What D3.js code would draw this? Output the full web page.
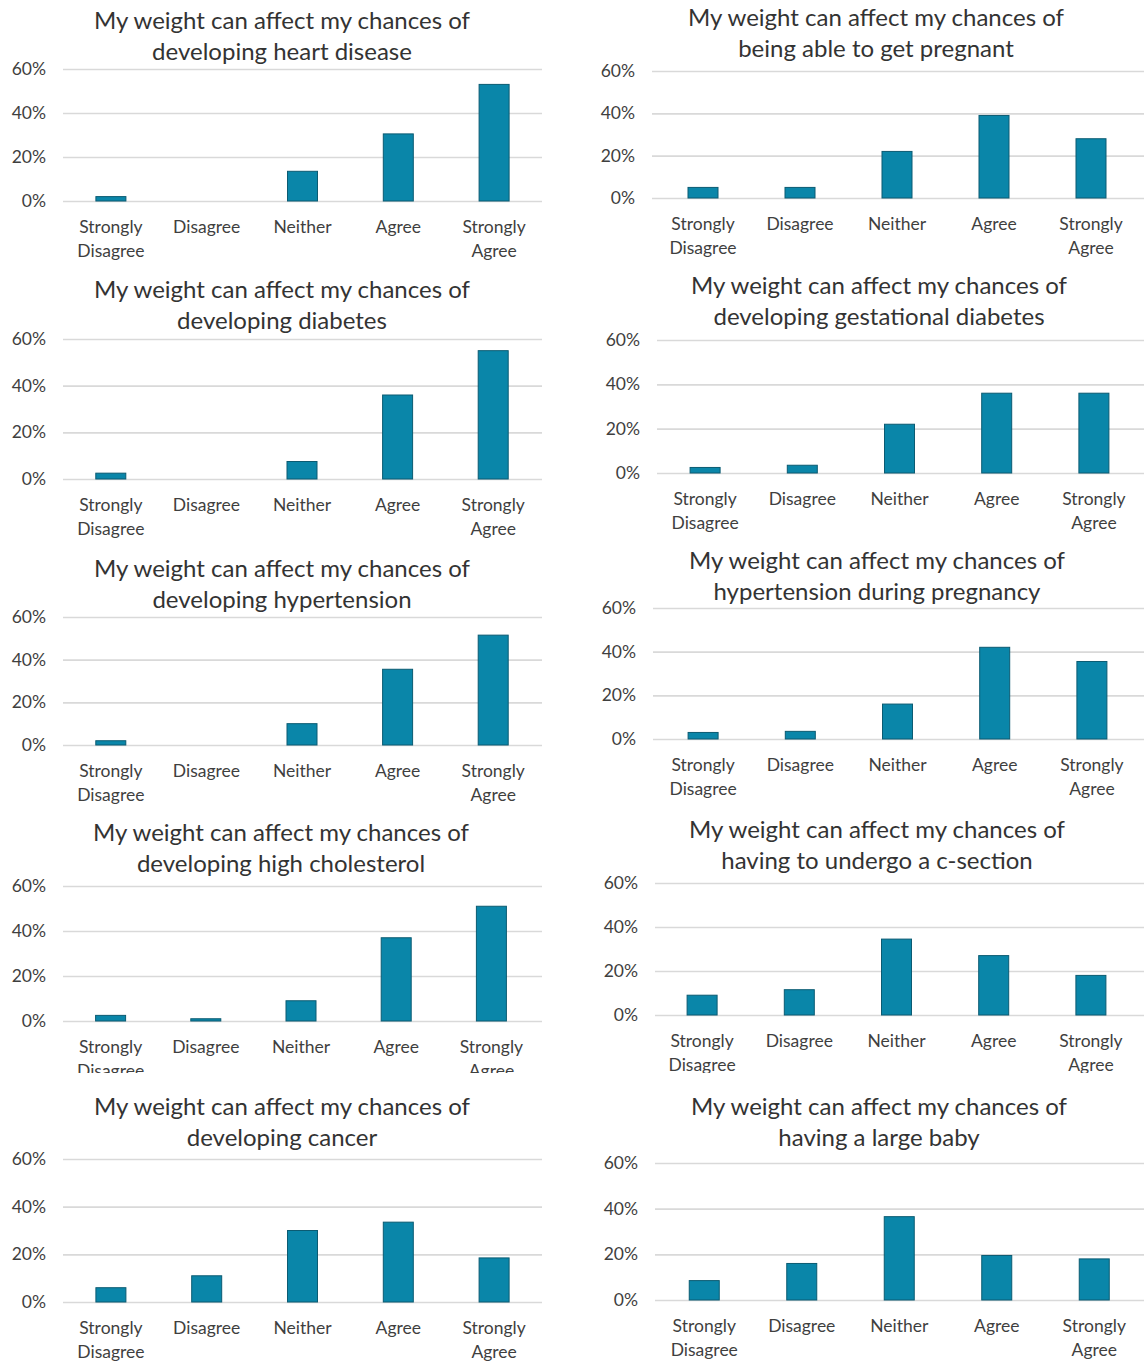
<!DOCTYPE html>
<html>
<head>
<meta charset="utf-8">
<script src="https://cdn.jsdelivr.net/npm/d3@7"></script>
<style>
  body { margin: 0; background: #fff; }
  svg text { font-family: Lato, "Open Sans", sans-serif; fill: #3f3f3f; }
  .title { font-size: 24px; fill: #333; }
  .tick text { font-size: 17.5px; }
  .cat { font-size: 18.5px; }
</style>
</head>
<body>
<div id="chart"></div>
<script>
// Answer categories (x axis), shared by all panels
const categories = ["Strongly Disagree", "Disagree", "Neither", "Agree", "Strongly Agree"];
const yTicks = [0, 20, 40, 60];

// Panel titles, left column first then right column
const titles = [
    ["My weight can affect my chances of", "developing heart disease"],
    ["My weight can affect my chances of", "developing diabetes"],
    ["My weight can affect my chances of", "developing hypertension"],
    ["My weight can affect my chances of", "developing high cholesterol"],
    ["My weight can affect my chances of", "developing cancer"],
    ["My weight can affect my chances of", "being able to get pregnant"],
    ["My weight can affect my chances of", "developing gestational diabetes"],
    ["My weight can affect my chances of", "hypertension during pregnancy"],
    ["My weight can affect my chances of", "having to undergo a c-section"],
    ["My weight can affect my chances of", "having a large baby"]
];

// Percent of respondents per category
const heartDisease   = [2, 0, 13.5, 30.5, 53];
const diabetes       = [2.5, 0, 7.5, 36, 55];
const hypertension   = [2, 0, 10, 35.5, 51.5];
const cholesterol    = [2.5, 1, 9, 37, 51];
const cancer         = [6, 11, 30, 33.5, 18.5];
const getPregnant    = [5, 5, 22, 39, 28];
const gestational    = [2.5, 3.5, 22, 36, 36];
const hyperPregnancy = [3, 3.5, 16, 42, 35.5];
const cSection       = [9, 11.5, 34.5, 27, 18];
const largeBaby      = [8.5, 16, 36.5, 19.5, 18];

const seriesList = [heartDisease, diabetes, hypertension, cholesterol, cancer,
                    getPregnant, gestational, hyperPregnancy, cSection, largeBaby];

// Where each pasted panel sits on the page
const layout = [
    { tx: 282, ty: 20,   gx0: 63,  gx1: 542,  bx0: 63,    bx1: 542,    yTop: 69,   yZero: 201,  clip: null },
    { tx: 282, ty: 289,  gx0: 63,  gx1: 542,  bx0: 63,    bx1: 541,    yTop: 339,  yZero: 479,  clip: null },
    { tx: 282, ty: 568,  gx0: 63,  gx1: 542,  bx0: 63,    bx1: 541,    yTop: 617,  yZero: 745,  clip: null },
    { tx: 281, ty: 832,  gx0: 63,  gx1: 542,  bx0: 63,    bx1: 539,    yTop: 886,  yZero: 1021, clip: 1073 },
    { tx: 282, ty: 1106, gx0: 63,  gx1: 542,  bx0: 63,    bx1: 542,    yTop: 1159, yZero: 1302, clip: null },
    { tx: 876, ty: 17,   gx0: 652, gx1: 1144, bx0: 654.5, bx1: 1139.5, yTop: 71,   yZero: 198,  clip: null },
    { tx: 879, ty: 285,  gx0: 657, gx1: 1144, bx0: 656.5, bx1: 1142.5, yTop: 340,  yZero: 473,  clip: null },
    { tx: 877, ty: 560,  gx0: 653, gx1: 1144, bx0: 654.5, bx1: 1140.5, yTop: 608,  yZero: 739,  clip: null },
    { tx: 877, ty: 829,  gx0: 655, gx1: 1144, bx0: 653.5, bx1: 1139.5, yTop: 883,  yZero: 1015, clip: 1073 },
    { tx: 879, ty: 1106, gx0: 655, gx1: 1144, bx0: 655.5, bx1: 1143,   yTop: 1163, yZero: 1300, clip: null }
];

const W = 1144, H = 1361;

const svg = d3.select("#chart")
    .append("svg")
    .attr("width", W)
    .attr("height", H);

const defs = svg.append("defs");

seriesList.forEach(function(values, i) {
    const L = layout[i];
    const data = categories.map((c, j) => ({ cat: c, value: values[j] }));

    let g = svg.append("g");
    if (L.clip) {
        defs.append("clipPath").attr("id", "clip" + i)
            .append("rect")
            .attr("x", 0).attr("y", 0)
            .attr("width", W).attr("height", L.clip);
        g.attr("clip-path", `url(#clip${i})`);
    }

    // Title
    g.append("text")
        .attr("class", "title")
        .attr("text-anchor", "middle")
        .attr("x", L.tx)
        .attr("y", L.ty)
        .selectAll("tspan")
        .data(titles[i])
        .join("tspan")
        .attr("x", L.tx)
        .attr("dy", (d, k) => k === 0 ? "0.36em" : "31px")
        .text(d => d);

    // Scales
    const x = d3.scaleBand()
        .domain(categories)
        .range([L.bx0, L.bx1]);

    const y = d3.scaleLinear()
        .domain([0, 60])
        .range([L.yZero, L.yTop]);

    // Y axis with gridlines
    const yAxis = d3.axisLeft(y)
        .tickValues(yTicks)
        .tickFormat(d => d + "%")
        .tickSize(-(L.gx1 - L.gx0))
        .tickPadding(17);

    const ya = g.append("g")
        .attr("transform", `translate(${L.gx0},0)`)
        .call(yAxis);
    ya.select(".domain").remove();
    ya.selectAll(".tick line")
        .attr("stroke", "#d9d9d9")
        .attr("stroke-width", 1.6);

    // Bars
    const bw = 30;
    g.selectAll(".bar")
        .data(data)
        .join("rect")
        .attr("class", "bar")
        .attr("x", d => x(d.cat) + x.bandwidth() / 2 - bw / 2)
        .attr("width", bw)
        .attr("y", d => y(d.value))
        .attr("height", d => Math.max(0, y(0) - y(d.value)))
        .attr("fill", "#0a86a9")
        .attr("stroke", "#0b5b72")
        .attr("stroke-width", 1)
        .style("display", d => d.value > 0 ? null : "none");

    // X axis labels (two lines where needed)
    const xAxis = d3.axisBottom(x).tickSize(0).tickPadding(0);
    const xa = g.append("g")
        .attr("transform", `translate(0,${L.yZero + 26})`)
        .call(xAxis);
    xa.select(".domain").remove();
    xa.selectAll(".tick text")
        .attr("class", "cat")
        .attr("y", 0)
        .attr("dy", null)
        .each(function(d) {
            const words = d.split(" ");
            const t = d3.select(this).text(null);
            words.forEach((w, k) => {
                t.append("tspan")
                    .attr("x", 0)
                    .attr("dy", k === 0 ? "0.36em" : "24px")
                    .text(w);
            });
        });
});
</script>
</body>
</html>
